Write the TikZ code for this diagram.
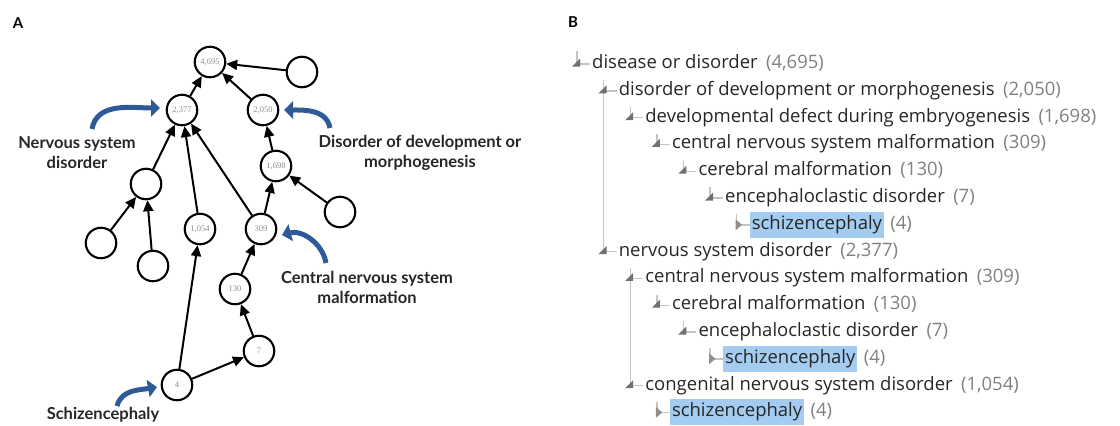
\documentclass[tikz,border=0pt]{standalone}
\usepackage{fontspec}
\setmainfont{Lato}
\newfontfamily\treefont{Open Sans}
\newfontfamily\numfont{Liberation Serif}
\usetikzlibrary{arrows.meta}
\definecolor{arrowblue}{HTML}{2F5A98}
\definecolor{hlblue}{HTML}{A4CBF0}
\definecolor{treegrey}{HTML}{C4C4C4}
\definecolor{tridark}{HTML}{707070}
\definecolor{trilight}{HTML}{909090}
\definecolor{countgrey}{HTML}{808080}
\definecolor{numgrey}{HTML}{8C8C8C}
\begin{document}
\begin{tikzpicture}[x=1pt,y=-1pt,
  gnode/.style={circle,draw=black,line width=2.1pt,minimum size=30.5pt,inner sep=0pt,
    font=\numfont\fontsize{8.5}{9}\selectfont,text=numgrey},
  edge/.style={line width=2pt,-{Triangle[length=11pt,width=10pt]}},
  callout/.style={draw=arrowblue,line width=5pt,-{Triangle[length=9pt,width=17pt]}},
  lab/.style={font=\bfseries\fontsize{16.5}{20}\selectfont,align=center,text=black!85},
  panel/.style={font=\bfseries\fontsize{15}{18}\selectfont},
  tname/.style={anchor=west,inner xsep=2pt,inner ysep=4pt,text height=13.5pt,text depth=4.5pt,
    font=\treefont\fontsize{18.5}{22}\selectfont,text=black!85},
  tcount/.style={anchor=west,inner xsep=2pt,inner ysep=4pt,text height=13.5pt,text depth=4.5pt,
    font=\treefont\fontsize{18.5}{22}\selectfont,text=countgrey},
  hl0/.style={},
  hl1/.style={fill=hlblue},
  tline/.style={draw=treegrey,line width=1.4pt}
]
\useasboundingbox (0,0) rectangle (1120,426);

% ---------------- Panel A ----------------
\node[panel] (pA) at (18,23) {A};
\node[gnode] (n4695) at (210,62) {4,695};
\node[gnode] (tr) at (302,72) {};
\node[gnode] (n2377) at (182,110) {2,377};
\node[gnode] (n2050) at (263,110) {2,050};
\node[gnode] (n1698) at (276,166) {1,698};
\node[gnode] (lm) at (146,184) {};
\node[gnode] (re) at (340,212) {};
\node[gnode] (n1054) at (200,229) {1,054};
\node[gnode] (n309) at (261,229) {309};
\node[gnode] (ll1) at (101,243) {};
\node[gnode] (ll2) at (153,266) {};
\node[gnode] (n130) at (235,289) {130};
\node[gnode] (n7) at (259,351) {7};
\node[gnode] (n4) at (177,385) {4};

\draw[edge] (tr) -- (n4695);
\draw[edge] (n2377) -- (n4695);
\draw[edge] (n2050) -- (n4695);
\draw[edge] (lm) -- (n2377);
\draw[edge] (n1054) -- (n2377);
\draw[edge] (n309) -- (n2377);
\draw[edge] (n1698) -- (n2050);
\draw[edge] (re) -- (n1698);
\draw[edge] (n309) -- (n1698);
\draw[edge] (ll1) -- (lm);
\draw[edge] (ll2) -- (lm);
\draw[edge] (n4) -- (n1054);
\draw[edge] (n130) -- (n309);
\draw[edge] (n7) -- (n130);
\draw[edge] (n4) -- (n7);

\node[lab] (l1) at (77,153) {Nervous system\\disorder};
\node[lab] (l2) at (420,153) {Disorder of development or\\morphogenesis};
\node[lab] (l3) at (367,287) {Central nervous system\\malformation};
\node[lab] (l4) at (103,415) {Schizencephaly};

\coordinate (a1s) at (92,129);  \coordinate (a1e) at (160,108);
\coordinate (a2s) at (330,128); \coordinate (a2e) at (284,110);
\coordinate (a3s) at (326,263); \coordinate (a3e) at (282,235);
\coordinate (a4s) at (117,406); \coordinate (a4e) at (157,387);
\draw[callout] (a1s) to[out=80,in=180] (a1e);
\draw[callout] (a2s) to[out=100,in=0] (a2e);
\draw[callout] (a3s) to[out=100,in=15] (a3e);
\draw[callout] (a4s) to[out=75,in=190] (a4e);

% ---------------- Panel B ----------------
\node[panel] (pB) at (573,22) {B};
\foreach \i/\lv/\nm/\ct/\hl in {
  0/0/disease or disorder/{(4,695)}/0,
  1/1/disorder of development or morphogenesis/{(2,050)}/0,
  2/2/developmental defect during embryogenesis/{(1,698)}/0,
  3/3/central nervous system malformation/(309)/0,
  4/4/cerebral malformation/(130)/0,
  5/5/encephaloclastic disorder/(7)/0,
  6/6/schizencephaly/(4)/1,
  7/1/nervous system disorder/{(2,377)}/0,
  8/2/central nervous system malformation/(309)/0,
  9/3/cerebral malformation/(130)/0,
  10/4/encephaloclastic disorder/(7)/0,
  11/5/schizencephaly/(4)/1,
  12/2/congenital nervous system disorder/{(1,054)}/0,
  13/3/schizencephaly/(4)/1}{
  \pgfmathsetmacro\yy{64+26.8*\i}
  \pgfmathsetmacro\xx{592+26.6*\lv}
  \node[tname,hl\hl] (r\i) at (\xx-2,\yy) {\nm};
  \node[tcount] (c\i) at ([xshift=4pt]r\i.east) {\ct};
  \coordinate (e\i) at (\xx-15,\yy);
}
\draw[tline] ([yshift=13pt]e0) -- (e0) -- (r0.west);
\foreach \p/\c in {0/1,1/2,2/3,3/4,4/5,5/6,0/7,7/8,8/9,9/10,10/11,7/12,12/13}{
  \draw[tline] ([yshift=-3pt]e\c |- r\p.south) -- (e\c) -- (r\c.west);
}
\foreach \i/\hl in {0/0,1/0,2/0,3/0,4/0,5/0,6/1,7/0,8/0,9/0,10/0,11/1,12/0,13/1}{
  \ifnum\hl=0
    \fill[tridark] (e\i) ++(-5,2.5) -- ++(8,0) -- ++(0,-8) -- cycle;
  \else
    \fill[trilight] (e\i) ++(-1,-5.5) -- ++(6.5,5.5) -- ++(-6.5,5.5) -- cycle;
  \fi
}
\end{tikzpicture}
\end{document}
